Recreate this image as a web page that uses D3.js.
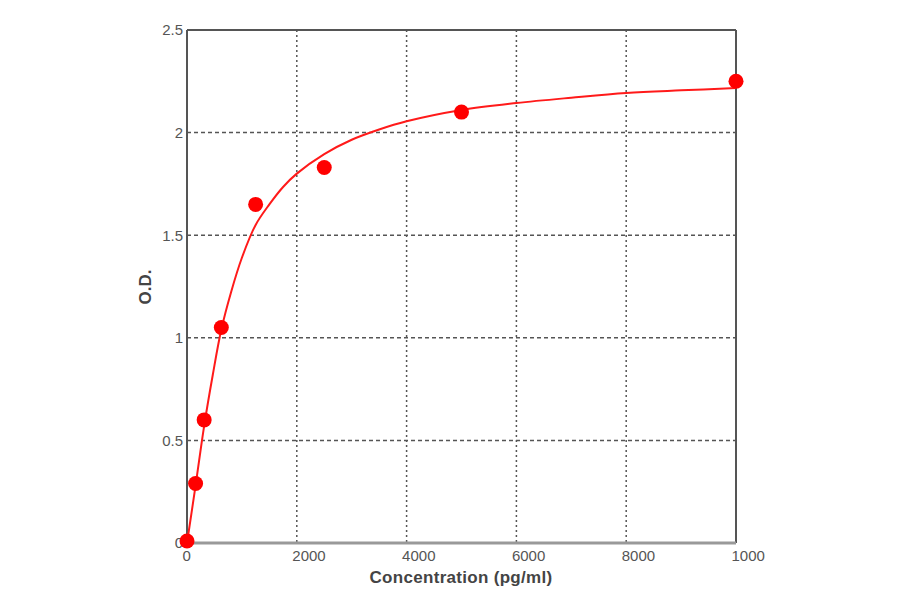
<!DOCTYPE html>
<html><head><meta charset="utf-8">
<script src="https://cdn.jsdelivr.net/npm/d3@7"></script>
<style>html,body{margin:0;padding:0;background:#fff;}svg{display:block;}</style>
</head><body>
<svg id="chart" width="900" height="594"></svg>
<script>
// Data
const concentrations = [0, 156.25, 312.5, 625, 1250, 2500, 5000, 10000];
const odValues = [0.01, 0.29, 0.60, 1.05, 1.65, 1.83, 2.10, 2.25];
// fitted standard curve
const curveConc = [0, 156, 312, 470, 625, 800, 1000, 1250, 1500, 1750, 2000, 2500, 3000, 3500, 4000, 5000, 6000, 7000, 8000, 9000, 10000];
const curveOD = [0.0, 0.28, 0.57, 0.82, 1.04, 1.22, 1.39, 1.55, 1.65, 1.735, 1.80, 1.895, 1.965, 2.015, 2.055, 2.11, 2.144, 2.17, 2.193, 2.206, 2.217];
const xTicks = [0, 2000, 4000, 6000, 8000, 10000];
const xTickLabels = ["0", "2000", "4000", "6000", "8000", "1000"];
const yTicks = [0, 0.5, 1, 1.5, 2, 2.5];
const yTickLabels = ["0", "0.5", "1", "1.5", "2", "2.5"];

const svg = d3.select("#chart");
const L = 187, R = 736, T = 30, B = 543;
const x = d3.scaleLinear().domain([0, 10000]).range([L, R]);
const y = d3.scaleLinear().domain([0, 2.5]).range([B, T]);

const g = svg.append("g");

// grid
g.selectAll(".hgrid").data(yTicks.slice(1, -1)).join("line")
  .attr("x1", L).attr("x2", R).attr("y1", d => y(d)).attr("y2", d => y(d))
  .attr("stroke", "#555").attr("stroke-width", 1.5).attr("stroke-dasharray", "4,3");
g.selectAll(".vgrid").data(xTicks.slice(1, -1)).join("line")
  .attr("y1", T).attr("y2", B).attr("x1", d => x(d)).attr("x2", d => x(d))
  .attr("stroke", "#555").attr("stroke-width", 1.5).attr("stroke-dasharray", "2,3");

// frame
g.append("line").attr("x1", L).attr("x2", R).attr("y1", T).attr("y2", T).attr("stroke", "#555").attr("stroke-width", 2);
g.append("line").attr("x1", R).attr("x2", R).attr("y1", T).attr("y2", B).attr("stroke", "#555").attr("stroke-width", 2);
g.append("line").attr("x1", L).attr("x2", L).attr("y1", T).attr("y2", B).attr("stroke", "#555").attr("stroke-width", 2);
g.append("line").attr("x1", L).attr("x2", R).attr("y1", B).attr("y2", B).attr("stroke", "#999").attr("stroke-width", 3);

// axes via d3 axis generators (styled)
const font = "Arial, 'Liberation Sans', sans-serif";
const yAxis = d3.axisLeft(y).tickValues(yTicks).tickSize(0).tickPadding(4)
  .tickFormat((d, i) => yTickLabels[i]);
const ya = svg.append("g").attr("transform", `translate(${L},0)`).call(yAxis);
ya.select(".domain").remove();
ya.selectAll("text").attr("fill", "#555").style("font-family", font).style("font-size", "15px");

const xAxis = d3.axisBottom(x).tickValues(xTicks).tickSize(0).tickPadding(7)
  .tickFormat((d, i) => xTickLabels[i]);
const xa = svg.append("g").attr("transform", `translate(0,${B})`).call(xAxis);
xa.select(".domain").remove();
xa.selectAll("text").attr("fill", "#555").attr("text-anchor", "start").attr("dx", "-5")
  .style("font-family", font).style("font-size", "15px");

// curve
const curveData = curveConc.map((c, i) => [c, curveOD[i]]);
svg.append("path").datum(curveData)
  .attr("fill", "none").attr("stroke", "#ff1a1a").attr("stroke-width", 2)
  .attr("d", d3.line().x(d => x(d[0])).y(d => y(d[1])).curve(d3.curveCatmullRom.alpha(0.5)));

// points
svg.selectAll(".pt").data(concentrations).join("circle")
  .attr("cx", d => x(d)).attr("cy", (d, i) => y(odValues[i])).attr("r", 7.5)
  .attr("fill", "#ff0000");

// titles
svg.append("text").attr("x", 461).attr("y", 583).attr("text-anchor", "middle")
  .attr("fill", "#444").style("font-family", font).style("font-size", "17px").style("font-weight", "bold")
  .style("letter-spacing", "0.3px")
  .text("Concentration (pg/ml)");
svg.append("text").attr("transform", "translate(151,287) rotate(-90)").attr("text-anchor", "middle")
  .attr("fill", "#444").style("font-family", font).style("font-size", "17px").style("font-weight", "bold")
  .text("O.D.");
</script>
</body></html>
